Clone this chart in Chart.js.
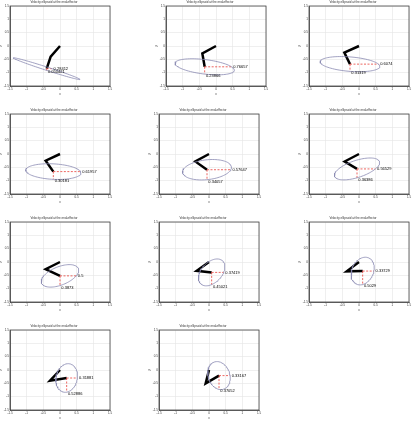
<!DOCTYPE html>
<html>
<head>
<meta charset="utf-8">
<script src="https://cdn.jsdelivr.net/npm/chart.js@4.4.0/dist/chart.umd.min.js"></script>
<style>
  html, body { margin: 0; padding: 0; background: #fff; }
  #page { position: relative; width: 413px; height: 421px; overflow: hidden; }
  #page canvas { position: absolute; }
</style>
</head>
<body>
<div id="page"></div>
<script>
// Axis ticks shared by all panels
const tickValues = [-1.5, -1, -0.5, 0, 0.5, 1, 1.5];
const panelTitle = 'Velocity ellipsoid at the end-effector';

// Arm joints (base is at the origin)
const elbowX = [-0.28, -0.41, -0.44, -0.43, -0.41, -0.43, -0.43, -0.37, -0.37, -0.30, -0.10];
const elbowY = [-0.40, -0.28, -0.25, -0.25, -0.28, -0.28, -0.27, -0.33, -0.35, -0.40, -0.50];
const endX   = [-0.40, -0.34, -0.27, -0.20, -0.06, -0.06,  0.00,  0.08,  0.11,  0.20,  0.30];
const endY   = [-0.85, -0.78, -0.68, -0.66, -0.59, -0.56, -0.52, -0.39, -0.34, -0.30, -0.21];

// Velocity ellipse at the end-effector
const semiMajor = [1.08, 0.90, 0.90, 0.83, 0.74, 0.73, 0.62, 0.55, 0.53, 0.54, 0.53];
const semiMinor = [0.06, 0.27, 0.27, 0.29, 0.37, 0.31, 0.33, 0.33, 0.33, 0.32, 0.33];
const tiltDeg   = [-22, -9, -6, -4, 9, 24, 30, 60, 75, 82, 100];

// Printed values
const hLabels = ['0.28412', '0.76657', '0.6074', '0.61957', '0.57647', '0.56529', '0.5', '0.37419', '0.33729', '0.31881', '0.33167'];
const vLabels = ['0.050421', '0.23866', '0.31319', '0.30181', '0.34057', '0.36386', '0.3873', '0.45021', '0.5029', '0.52886', '0.37052'];

// Panel placement (plot area, in page pixels)
const plotLeft = [10, 166, 309, 10, 159, 309, 10, 159, 309, 10, 159];
const plotTop  = [6, 6, 6, 114, 114, 114, 222, 222, 222, 330, 330];
const plotW = 100, plotH = 80;
const padL = 12, padR = 4, padT = 8, padB = 10;

function ellipsePoints(i) {
    const t = tiltDeg[i] * Math.PI / 180;
    const pts = [];
    for (let k = 0; k <= 90; k++) {
        const u = k / 90 * 2 * Math.PI;
        const px = semiMajor[i] * Math.cos(u), py = semiMinor[i] * Math.sin(u);
        pts.push({ x: endX[i] + px * Math.cos(t) - py * Math.sin(t),
                   y: endY[i] + px * Math.sin(t) + py * Math.cos(t) });
    }
    return pts;
}

// distance from the centre to the ellipse along direction phi
function reach(i, phi) {
    const d = phi - tiltDeg[i] * Math.PI / 180;
    const a = semiMajor[i], b = semiMinor[i];
    return 1 / Math.sqrt(Math.cos(d) ** 2 / (a * a) + Math.sin(d) ** 2 / (b * b));
}

const boxPlugin = {
    id: 'box',
    afterDraw(chart) {
        const { ctx, chartArea: a } = chart;
        ctx.save();
        ctx.strokeStyle = '#444';
        ctx.lineWidth = 0.8;
        ctx.strokeRect(a.left, a.top, a.right - a.left, a.bottom - a.top);
        ctx.restore();
    }
};

const labelPlugin = {
    id: 'valueLabels',
    afterDatasetsDraw(chart, args, opts) {
        const { ctx, scales: { x, y } } = chart;
        ctx.save();
        ctx.font = '4px "Liberation Sans", Arial, sans-serif';
        ctx.fillStyle = '#000';
        ctx.textAlign = 'left';
        ctx.textBaseline = 'middle';
        opts.items.forEach(function(it) {
            ctx.fillText(it.text, x.getPixelForValue(it.x), y.getPixelForValue(it.y));
        });
        ctx.restore();
    }
};

function axisOptions(label, isX) {
    return {
        type: 'linear', min: -1.5, max: 1.5,
        afterBuildTicks: function(s) { s.ticks = tickValues.map(v => ({ value: v })); },
        afterFit: function(s) { if (isX) s.height = padB; else s.width = padL; },
        ticks: { font: { size: 3, family: 'Liberation Sans' }, color: '#333', padding: 1,
                 maxRotation: 0, autoSkip: false, callback: v => String(v) },
        grid: { color: '#e4e4e4', lineWidth: 0.6, drawTicks: false },
        border: { color: '#444', width: 0.8 },
        title: { display: true, text: label, color: '#333',
                 font: { size: 3, family: 'Liberation Sans', lineHeight: 1 }, padding: { top: 1, bottom: 0 } }
    };
}

function drawPanel(i) {
    const canvas = document.createElement('canvas');
    canvas.width = padL + plotW + padR;
    canvas.height = padT + plotH + padB;
    canvas.style.left = (plotLeft[i] - padL) + 'px';
    canvas.style.top = (plotTop[i] - padT) + 'px';
    document.getElementById('page').appendChild(canvas);

    const dh = reach(i, 0), dv = reach(i, -Math.PI / 2);
    const ex = endX[i], ey = endY[i];

    new Chart(canvas.getContext('2d'), {
        type: 'scatter',
        data: {
            datasets: [
                { data: ellipsePoints(i), showLine: true, borderColor: '#8a8ab2', borderWidth: 0.8, pointRadius: 0 },
                { data: [{ x: ex, y: ey }, { x: ex + dh, y: ey }], showLine: true, borderColor: '#e8403a',
                  borderWidth: 0.8, borderDash: [2, 1.5], pointRadius: 0 },
                { data: [{ x: ex, y: ey }, { x: ex, y: ey - dv }], showLine: true, borderColor: '#e8403a',
                  borderWidth: 0.8, borderDash: [2, 1.5], pointRadius: 0 },
                { data: [{ x: 0, y: 0 }, { x: elbowX[i], y: elbowY[i] }, { x: ex, y: ey }], showLine: true,
                  borderColor: '#000', borderWidth: 2.5, pointRadius: 0, borderJoinStyle: 'miter' }
            ]
        },
        options: {
            responsive: false,
            animation: false,
            devicePixelRatio: 1,
            layout: { padding: { left: 0, right: padR, top: 0, bottom: 0 } },
            plugins: {
                legend: { display: false },
                tooltip: { enabled: false },
                title: { display: true, text: panelTitle, color: '#333',
                         font: { size: 3, family: 'Liberation Sans', weight: 'normal', lineHeight: 1 },
                         padding: { top: 3, bottom: 2 } },
                valueLabels: { items: [
                    { text: hLabels[i], x: ex + dh + 0.05, y: ey },
                    { text: vLabels[i], x: ex + 0.04, y: ey - dv - 0.07 }
                ] }
            },
            scales: { x: axisOptions('x', true), y: axisOptions('y', false) }
        },
        plugins: [boxPlugin, labelPlugin]
    });
}

window.onload = function() {
    for (let i = 0; i < endX.length; i++) drawPanel(i);
};
</script>
</body>
</html>
